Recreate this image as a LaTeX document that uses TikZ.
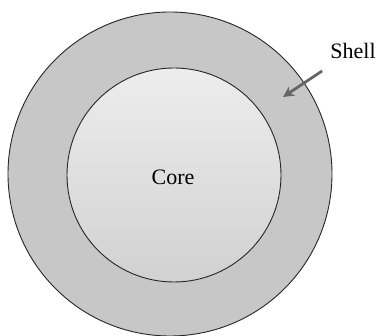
\documentclass[tikz,border=0pt]{standalone}
\usepackage{fontspec}
\setmainfont{Liberation Serif}
\usetikzlibrary{arrows.meta, positioning, shadings}

\begin{document}
\begin{tikzpicture}[x=1pt, y=1pt,
    % ── Layers of the particle ───────────────────────────────────────
    shellring/.style={
        draw=black!85, circle, line width=0.9pt, inner sep=0pt,
        fill=black!22
    },
    corering/.style={
        draw=black!85, circle, line width=0.9pt, inner sep=0pt,
        top color=black!7, bottom color=black!18
    },
    % ── Labels and pointer ───────────────────────────────────────────
    lbl/.style={font=\fontsize{22}{25}\selectfont, inner sep=0pt},
    arrow/.style={line width=2.8pt, draw=black!60,
        -{Stealth[length=11pt, width=11pt]}}
]
    \useasboundingbox (0,0) rectangle (380,336);

    % ── Particle ─────────────────────────────────────────────────
    \node[shellring, minimum size=324pt] (shell) at (170,162) {};
    \node[corering,  minimum size=214pt] (core)  at (174,161) {};
    \node[lbl] (corelbl) at (173,159) {Core};

    % ── Shell label ──
    \node[lbl] (shelllbl) at (353,285) {Shell};
    \coordinate (shelltip) at (283,239);
    \draw[arrow] ([xshift=-8pt, yshift=-12pt]shelllbl.south west) -- (shelltip);

\end{tikzpicture}
\end{document}
